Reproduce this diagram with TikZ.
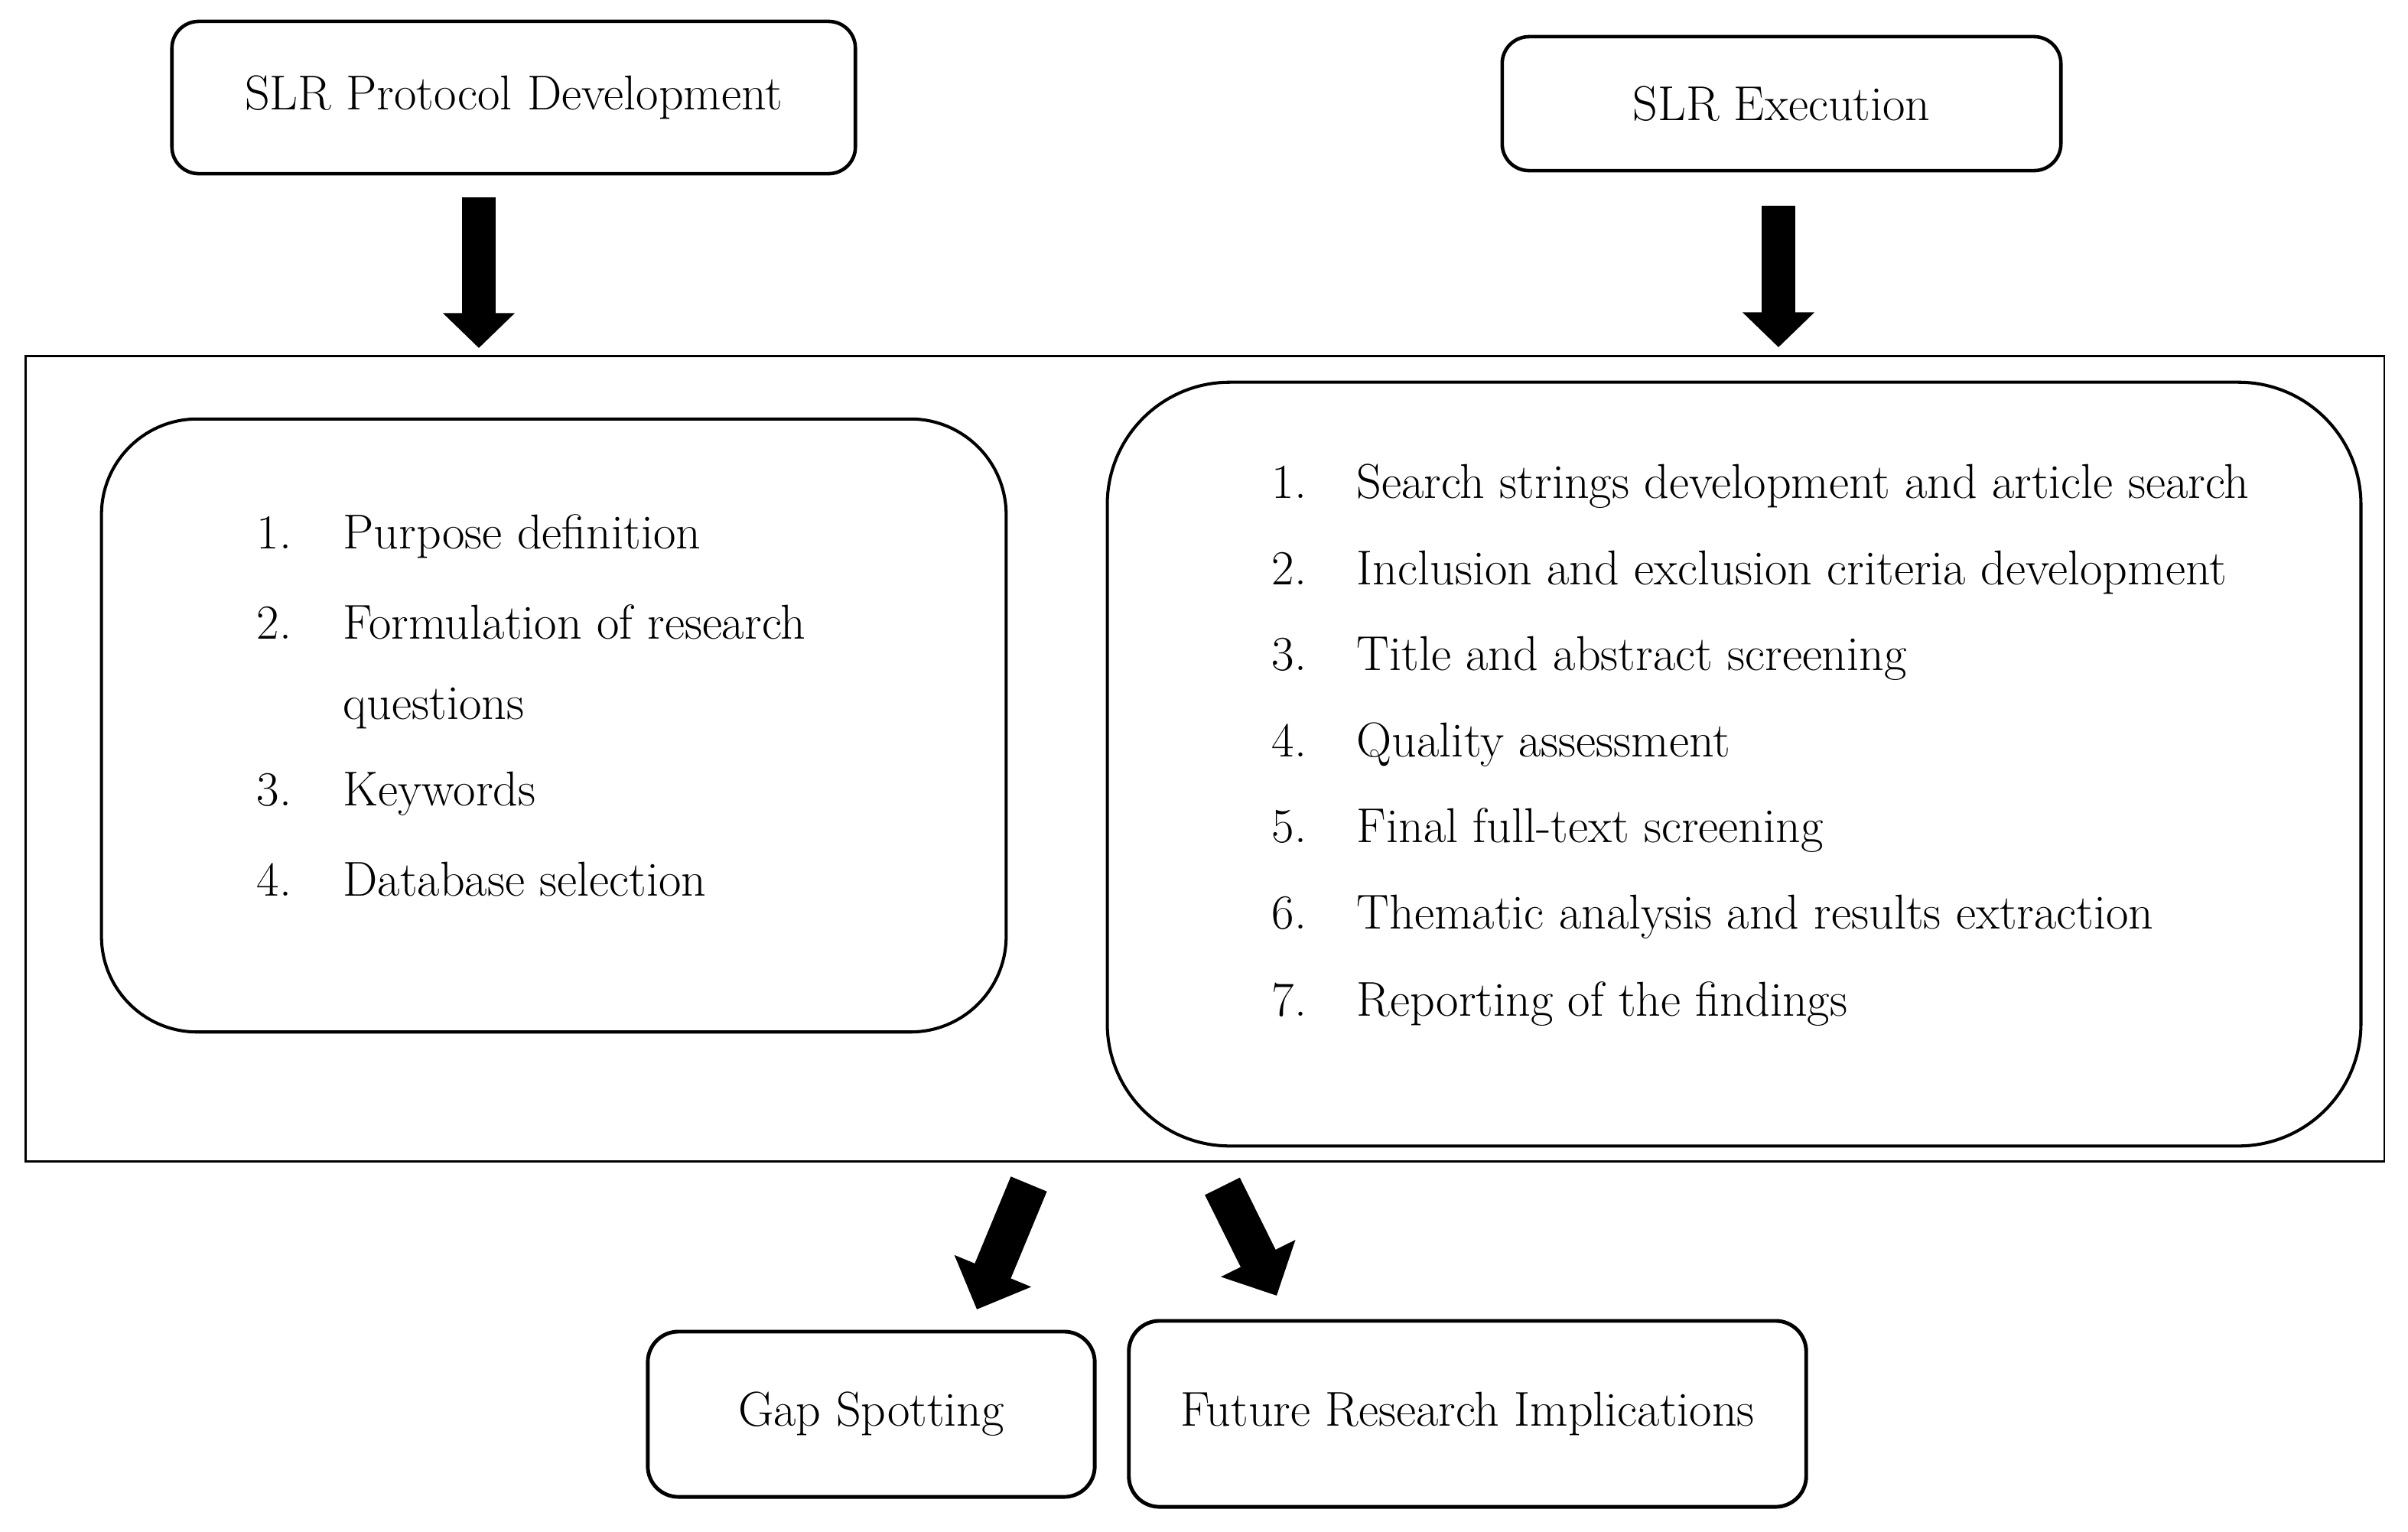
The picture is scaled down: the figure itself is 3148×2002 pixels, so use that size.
\documentclass[tikz,border=0pt]{standalone}
\usetikzlibrary{arrows.meta}
\begin{document}
\begin{tikzpicture}[x=0.01cm,y=-0.01cm,
  every node/.style={font=\fontsize{18.2}{22}\selectfont},
  hbox/.style={draw,line width=1.3pt,rounded corners=0.35cm,inner sep=0pt,outer sep=0pt},
  frame/.style={draw,line width=0.8pt,inner sep=0pt,outer sep=0pt},
  listbox/.style={draw,line width=1.15pt,inner sep=0pt,outer sep=0pt},
  item/.style={anchor=west,inner sep=0pt},
  bigarrow/.style={line width=12.5pt,-{Triangle[width=26pt,length=13pt]}},
  diagarrow/.style={line width=14.5pt,-{Triangle[width=30pt,length=15.5pt]}}
]
\useasboundingbox (0,0) rectangle (3148,2002);
% header boxes
\node[hbox,minimum width=8.93cm,minimum height=1.99cm] (prot) at (671.5,127.5) {SLR Protocol Development};
\node[hbox,minimum width=7.30cm,minimum height=1.75cm] (exec) at (2329,135.5) {SLR Execution};
% frame
\node[frame,minimum width=30.82cm,minimum height=10.52cm] (frame) at (1575,992) {};
% list boxes
\node[listbox,rounded corners=1.25cm,minimum width=11.82cm,minimum height=8.01cm] (lbox) at (724,948.5) {};
\node[listbox,rounded corners=1.6cm,minimum width=16.38cm,minimum height=9.98cm] (rbox) at (2267,999) {};
% left items
\node[item] (l1) at (335,701) {\makebox[32.1pt][l]{1.}Purpose definition};
\node[item] (l2) at (335,813) {\makebox[32.1pt][l]{2.}Formulation of research};
\node[item] (l2b) at (448,926) {questions};
\node[item] (l3) at (335,1038) {\makebox[32.1pt][l]{3.}Keywords};
\node[item] (l4) at (335,1150) {\makebox[32.1pt][l]{4.}Database selection};
% right items
\node[item] (r1) at (1662,636) {\makebox[31.6pt][l]{1.}Search strings development and article search};
\node[item] (r2) at (1662,749) {\makebox[31.6pt][l]{2.}Inclusion and exclusion criteria development};
\node[item] (r3) at (1662,861) {\makebox[31.6pt][l]{3.}Title and abstract screening};
\node[item] (r4) at (1662,974) {\makebox[31.6pt][l]{4.}Quality assessment};
\node[item] (r5) at (1662,1086) {\makebox[31.6pt][l]{5.}Final full-text screening};
\node[item] (r6) at (1662,1199) {\makebox[31.6pt][l]{6.}Thematic analysis and results extraction};
\node[item] (r7) at (1662,1313) {\makebox[31.6pt][l]{7.}Reporting of the findings};
% bottom boxes
\node[hbox,line width=1.4pt,rounded corners=0.4cm,minimum width=5.84cm,minimum height=2.16cm] (gap) at (1139,1849) {Gap Spotting};
\node[hbox,line width=1.4pt,rounded corners=0.4cm,minimum width=8.85cm,minimum height=2.43cm] (fut) at (1918.5,1848.5) {Future Research Implications};
% arrow coordinates
\coordinate (a1s) at (626,258);
\coordinate (a1e) at (626,455);
\coordinate (a2s) at (2325,269);
\coordinate (a2e) at (2325,454);
\coordinate (a3s) at (1345,1548);
\coordinate (a3e) at (1277,1712);
\coordinate (a4s) at (1598,1551);
\coordinate (a4e) at (1669,1694);
\draw[bigarrow] (a1s) -- (a1e);
\draw[bigarrow] (a2s) -- (a2e);
\draw[diagarrow] (a3s) -- (a3e);
\draw[diagarrow] (a4s) -- (a4e);
\end{tikzpicture}
\end{document}
